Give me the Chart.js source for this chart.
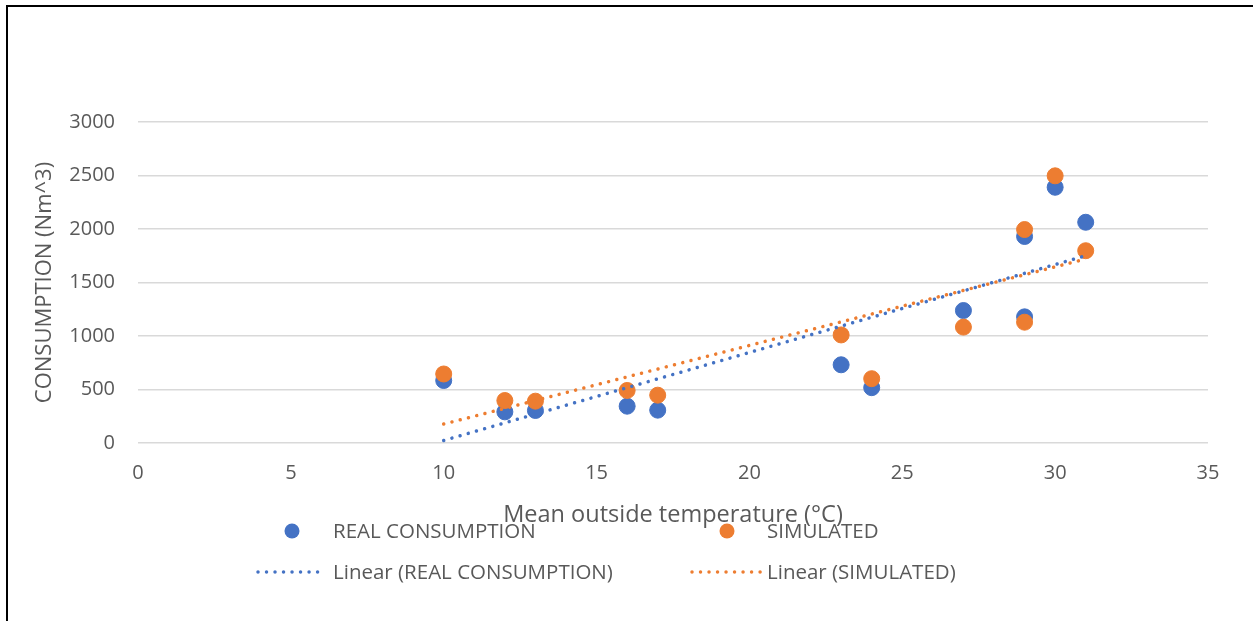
<!DOCTYPE html>
<html>
<head>
<meta charset="utf-8">
<script src="https://cdn.jsdelivr.net/npm/chart.js@4.4.0/dist/chart.umd.min.js"></script>
<style>
  html, body { margin: 0; padding: 0; background: #fff; overflow: hidden; }
  #frame {
    position: absolute; left: 6px; top: 5px; width: 1300px; height: 700px;
    border-left: 2px solid #000; border-top: 2px solid #000;
  }
  canvas { position: absolute; left: 0; top: 0; }
</style>
</head>
<body>
<div id="frame"></div>
<canvas id="chart" width="1253" height="621"></canvas>
<script>
// temperature (°C) per day sample
const temps = [10, 12, 13, 16, 17, 23, 24, 27, 29, 29, 30, 31];
// consumption in Nm^3
const realConsumption = [584, 291, 304, 344, 307, 731, 517, 1238, 1930, 1179, 2390, 2063];
const simulated = [645, 397, 391, 491, 447, 1010, 601, 1083, 1995, 1129, 2497, 1797];

const xTicks = [0, 5, 10, 15, 20, 25, 30, 35];
const yTicks = [0, 500, 1000, 1500, 2000, 2500, 3000];

const BLUE = "#4472C4";
const ORANGE = "#ED7D31";
const TEXT = "#595959";
const FONT = "'Open Sans', 'DejaVu Sans', sans-serif";

const toPoints = (xs, ys) => xs.map((x, i) => ({ x: x, y: ys[i] }));

// least squares line, same as the spreadsheet's linear trendline
function trend(xs, ys) {
  const n = xs.length;
  const mx = xs.reduce((a, b) => a + b, 0) / n;
  const my = ys.reduce((a, b) => a + b, 0) / n;
  let sxy = 0, sxx = 0;
  xs.forEach((x, i) => {
    sxy += (x - mx) * (ys[i] - my);
    sxx += (x - mx) * (x - mx);
  });
  const k = sxy / sxx;
  const lo = Math.min(...xs), hi = Math.max(...xs);
  return [
    { x: lo, y: my + k * (lo - mx) },
    { x: hi, y: my + k * (hi - mx) },
  ];
}

const dotted = (color) => ({
  showLine: true,
  borderColor: color,
  borderWidth: 3.5,
  borderDash: [0.01, 8.5],
  borderCapStyle: "round",
  pointRadius: 0,
  pointHoverRadius: 0,
  fill: false,
});

// legend drawn to match the two-column layout of the original
const legendPlugin = {
  id: "sheetLegend",
  afterDraw(chart) {
    const ctx = chart.ctx;
    ctx.save();
    ctx.font = "20.5px " + FONT;
    ctx.textBaseline = "middle";
    ctx.textAlign = "left";

    const items = [
      { kind: "dot", color: BLUE, x: 292, tx: 333, y: 531, label: "REAL CONSUMPTION" },
      { kind: "dot", color: ORANGE, x: 727, tx: 767, y: 531, label: "SIMULATED" },
      { kind: "line", color: BLUE, x0: 258, x1: 326, tx: 333, y: 572, label: "Linear (REAL CONSUMPTION)" },
      { kind: "line", color: ORANGE, x0: 692, x1: 761, tx: 767, y: 572, label: "Linear (SIMULATED)" },
    ];

    items.forEach((it) => {
      if (it.kind === "dot") {
        ctx.beginPath();
        ctx.fillStyle = it.color;
        ctx.arc(it.x, it.y, 7.5, 0, Math.PI * 2);
        ctx.fill();
      } else {
        ctx.beginPath();
        ctx.strokeStyle = it.color;
        ctx.lineWidth = 3.5;
        ctx.lineCap = "round";
        ctx.setLineDash([0.01, 8.5]);
        ctx.moveTo(it.x0, it.y);
        ctx.lineTo(it.x1, it.y);
        ctx.stroke();
        ctx.setLineDash([]);
      }
      ctx.fillStyle = TEXT;
      ctx.fillText(it.label, it.tx, it.y + 1);
    });
    ctx.restore();
  },
};

new Chart(document.getElementById("chart").getContext("2d"), {
  type: "scatter",
  data: {
    datasets: [
      {
        label: "Linear (REAL CONSUMPTION)",
        data: trend(temps, realConsumption),
        order: 1,
        ...dotted(BLUE),
      },
      {
        label: "Linear (SIMULATED)",
        data: trend(temps, simulated),
        order: 2,
        ...dotted(ORANGE),
      },
      {
        label: "SIMULATED",
        data: toPoints(temps, simulated),
        backgroundColor: ORANGE,
        borderColor: ORANGE,
        pointRadius: 8,
        order: 3,
      },
      {
        label: "REAL CONSUMPTION",
        data: toPoints(temps, realConsumption),
        backgroundColor: BLUE,
        borderColor: BLUE,
        pointRadius: 8,
        order: 4,
      },
    ],
  },
  options: {
    responsive: false,
    animation: false,
    devicePixelRatio: 1,
    layout: {
      padding: { left: 0, top: 122, right: 45, bottom: 78 },
    },
    plugins: {
      legend: { display: false },
      tooltip: { enabled: false },
    },
    scales: {
      x: {
        type: "linear",
        min: 0,
        max: 35,
        afterBuildTicks: (scale) => {
          scale.ticks = xTicks.map((v) => ({ value: v }));
        },
        afterFit: (scale) => {
          scale.height = 100;
        },
        grid: { display: false, drawTicks: false },
        border: { display: false },
        ticks: {
          color: TEXT,
          padding: 18,
          maxRotation: 0,
          font: { family: FONT, size: 20 },
        },
        title: {
          display: true,
          text: "Mean outside temperature (°C)",
          color: TEXT,
          padding: { top: 14, bottom: 14 },
          font: { family: FONT, size: 23.5 },
        },
      },
      y: {
        type: "linear",
        min: 0,
        max: 3000,
        afterBuildTicks: (scale) => {
          scale.ticks = yTicks.map((v) => ({ value: v }));
        },
        afterFit: (scale) => {
          scale.width = 138;
        },
        grid: { color: "#d9d9d9", lineWidth: 1.5, drawTicks: false },
        border: { display: false },
        ticks: {
          color: TEXT,
          padding: 23,
          font: { family: FONT, size: 20 },
          callback: (v) => String(v),
        },
        title: {
          display: true,
          text: "CONSUMPTION (Nm^3)",
          color: TEXT,
          padding: { top: 32, bottom: 32 },
          font: { family: FONT, size: 22 },
        },
      },
    },
  },
  plugins: [legendPlugin],
});
</script>
</body>
</html>
